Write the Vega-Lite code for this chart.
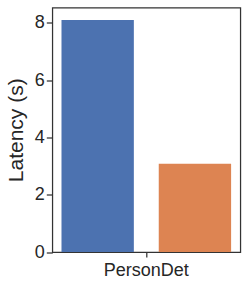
{
  "$schema": "https://vega.github.io/schema/vega-lite/v6.json",
  "autosize": "none",
  "width": 188,
  "height": 244.5,
  "padding": {"left": 52.3, "top": 7.5, "right": 8.7, "bottom": 36},
  "background": "white",
  "config": {
    "font": "Liberation Sans",
    "view": {"stroke": "#333333", "strokeWidth": 1.25},
    "axis": {
      "grid": false,
      "domain": false,
      "tickColor": "#333333",
      "tickWidth": 1.25,
      "labelColor": "#262626",
      "titleColor": "#262626",
      "labelFont": "Liberation Sans",
      "titleFont": "Liberation Sans",
      "labelFontSize": 18,
      "titleFontSize": 21,
      "titleFontWeight": "normal"
    }
  },
  "data": {
    "values": [
      {"task": "PersonDet", "system": "Baseline", "latency": 8.1},
      {"task": "PersonDet", "system": "Optimized", "latency": 3.08}
    ]
  },
  "mark": {"type": "bar"},
  "encoding": {
    "x": {
      "field": "task",
      "type": "nominal",
      "scale": {"paddingInner": 0, "paddingOuter": 0.0542},
      "axis": {"title": null, "labelAngle": 0, "tickSize": 5, "labelPadding": 4}
    },
    "xOffset": {
      "field": "system",
      "type": "nominal",
      "scale": {"paddingInner": 0.256, "paddingOuter": 0}
    },
    "y": {
      "field": "latency",
      "type": "quantitative",
      "scale": {"domain": [0, 8.54], "nice": false, "zero": true},
      "axis": {"title": "Latency (s)", "values": [0, 2, 4, 6, 8], "tickSize": 6, "labelPadding": 2, "titlePadding": 8}
    },
    "color": {
      "field": "system",
      "type": "nominal",
      "scale": {"domain": ["Baseline", "Optimized"], "range": ["#4C72B0", "#DD8452"]},
      "legend": null
    }
  }
}
